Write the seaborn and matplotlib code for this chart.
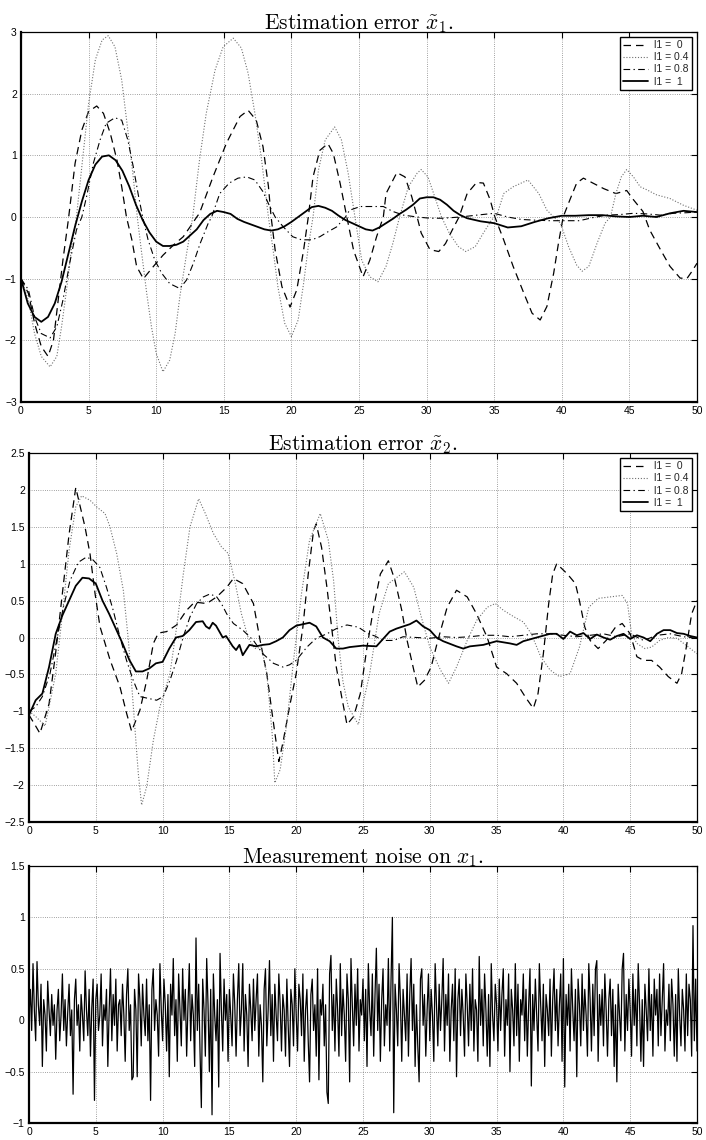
import numpy as np
import pandas as pd
import matplotlib
matplotlib.use("Agg")
import matplotlib.pyplot as plt
import seaborn as sns
from matplotlib.ticker import FuncFormatter, MultipleLocator

# ---------------- data ----------------
legend_labels = ["l1 =  0", "l1 = 0.4", "l1 = 0.8", "l1 =  1"]
titles = [r"$\mathrm{Estimation\ error\ }\tilde{x}_1.$",
          r"$\mathrm{Estimation\ error\ }\tilde{x}_2.$",
          r"$\mathrm{Measurement\ noise\ on\ }x_1.$"]
x_ticks = [0, 5, 10, 15, 20, 25, 30, 35, 40, 45, 50]

# Panel 1: estimation error x1
p1_l0_t = [0, 0.55, 1.0, 1.5, 2.0, 2.4, 2.75, 3.1, 3.5, 4.0, 4.5, 5.0, 5.6, 6.1, 6.6, 7.1, 7.45, 7.8,
           8.2, 8.55, 9.05, 9.8, 10.5, 11.3, 12.0, 12.6, 13.0, 13.2, 14.2, 15.2, 16.2, 16.8, 17.4, 17.9,
           18.3, 18.5, 18.8, 19.3, 19.9, 20.4, 20.9, 21.25, 21.6, 22.1, 22.7, 23.1, 23.6, 24.1, 24.6,
           25.3, 25.8, 26.3, 26.8, 27.0, 27.8, 28.4, 28.9, 29.3, 29.6, 30.25, 30.9, 31.4, 31.9, 32.4,
           33.0, 33.7, 34.2, 34.7, 35.05, 35.7, 36.4, 37.2, 37.8, 38.4, 38.9, 39.4, 39.75, 40.1, 40.6,
           41.1, 41.6, 42.3, 43.1, 44.0, 44.8, 45.3, 46.0, 46.5, 47.3, 48.0, 48.75, 49.25, 49.6, 50.0]
p1_l0_v = [-1.0, -1.24, -1.72, -2.1, -2.26, -2.0, -1.35, -0.7, -0.05, 0.87, 1.41, 1.71, 1.8, 1.68, 1.36,
           0.92, 0.49, 0.0, -0.37, -0.8, -1.0, -0.8, -0.62, -0.45, -0.32, -0.13, 0.0, 0.06, 0.65, 1.2,
           1.63, 1.73, 1.57, 1.14, 0.5, 0.0, -0.54, -1.13, -1.46, -1.18, -0.54, 0.0, 0.65, 1.08, 1.19,
           1.03, 0.55, 0.0, -0.54, -0.97, -0.7, -0.32, 0.0, 0.38, 0.72, 0.65, 0.33, 0.0, -0.26, -0.53,
           -0.56, -0.43, -0.21, 0.0, 0.38, 0.56, 0.55, 0.28, 0.0, -0.37, -0.8, -1.24, -1.56, -1.67, -1.45,
           -0.91, -0.43, 0.0, 0.28, 0.55, 0.63, 0.55, 0.46, 0.38, 0.43, 0.28, 0.09, -0.21, -0.53, -0.8,
           -0.99, -1.0, -0.89, -0.75]

p1_l04_t = [0, 0.55, 1.0, 1.5, 2.15, 2.65, 3.0, 3.4, 3.75, 4.1, 4.5, 5.0, 5.5, 6.0, 6.45, 6.95, 7.45,
            7.9, 8.3, 8.6, 8.9, 9.3, 9.65, 10.0, 10.5, 11.0, 11.4, 11.75, 12.25, 12.7, 13.2, 13.7, 14.35,
            14.95, 15.7, 16.3, 16.8, 17.3, 17.8, 18.3, 18.65, 19.0, 19.5, 20.0, 20.5, 20.9, 21.25, 21.6,
            22.0, 22.5, 23.2, 23.7, 24.2, 24.7, 25.2, 25.8, 26.4, 27.0, 27.5, 28.0, 28.65, 29.3, 29.6,
            30.1, 30.6, 31.1, 31.7, 32.35, 32.9, 33.6, 34.2, 34.8, 35.2, 35.7, 36.4, 37.5, 38.3, 38.9,
            39.4, 39.9, 40.5, 41.1, 41.5, 42.0, 42.6, 43.2, 43.6, 44.0, 44.4, 44.8, 45.3, 45.8, 46.3,
            47.0, 48.0, 49.0, 50.0]
p1_l04_v = [-1.0, -1.35, -1.89, -2.26, -2.43, -2.26, -1.78, -1.13, -0.48, 0.0, 0.82, 1.84, 2.55, 2.87,
            2.94, 2.76, 2.22, 1.41, 0.65, 0.0, -0.54, -1.24, -1.78, -2.21, -2.51, -2.32, -1.89, -1.29,
            -0.59, 0.0, 0.92, 1.68, 2.38, 2.76, 2.9, 2.74, 2.33, 1.68, 0.92, 0.0, -0.54, -1.13, -1.72,
            -1.94, -1.67, -1.08, -0.48, 0.0, 0.76, 1.25, 1.46, 1.25, 0.71, 0.0, -0.7, -0.97, -1.05, -0.8,
            -0.43, 0.0, 0.49, 0.71, 0.77, 0.65, 0.33, 0.0, -0.27, -0.48, -0.56, -0.48, -0.26, -0.05, 0.03,
            0.38, 0.49, 0.6, 0.38, 0.11, 0.0, -0.1, -0.48, -0.78, -0.88, -0.8, -0.43, -0.1, 0.0, 0.38,
            0.65, 0.77, 0.65, 0.49, 0.44, 0.36, 0.3, 0.19, 0.11]

p1_l08_t = [0, 0.55, 1.0, 1.5, 2.15, 2.65, 3.1, 3.6, 4.1, 4.5, 4.85, 5.35, 5.85, 6.3, 6.95, 7.45, 7.9,
            8.3, 8.7, 9.0, 9.4, 9.9, 10.4, 11.0, 11.75, 12.25, 12.75, 13.25, 13.85, 14.1, 14.7, 15.4,
            16.05, 16.7, 17.3, 17.9, 18.4, 18.8, 19.4, 20.1, 20.75, 21.5, 22.1, 22.7, 23.35, 24.0, 24.3,
            25.1, 25.8, 26.8, 27.5, 28.3, 29.3, 30.25, 31.2, 32.5, 33.7, 35.0, 36.0, 37.0, 37.9, 39.1,
            40.1, 41.3, 42.3, 43.3, 44.3, 45.3, 46.3, 47.3, 48.25, 49.25, 50.0]
p1_l08_v = [-1.0, -1.18, -1.62, -1.89, -1.96, -1.78, -1.35, -0.75, -0.21, 0.0, 0.33, 0.87, 1.25, 1.52,
            1.61, 1.57, 1.25, 0.82, 0.33, 0.0, -0.37, -0.7, -0.91, -1.08, -1.16, -1.02, -0.75, -0.43,
            -0.1, 0.0, 0.38, 0.55, 0.63, 0.65, 0.6, 0.41, 0.17, 0.0, -0.16, -0.32, -0.37, -0.37, -0.32,
            -0.24, -0.16, 0.0, 0.11, 0.17, 0.17, 0.17, 0.09, 0.03, 0.0, -0.02, -0.02, 0.0, 0.03, 0.06,
            0.0, -0.04, -0.05, -0.06, -0.06, -0.06, -0.01, 0.03, 0.04, 0.06, 0.05, 0.03, 0.06, 0.07, 0.08]

p1_l1_t = [0, 0.5, 1.0, 1.5, 2.0, 2.5, 3.0, 3.5, 4.0, 4.5, 5.0, 5.5, 6.0, 6.5, 7.0, 7.5, 8.0, 8.5, 9.0,
           9.5, 10.0, 10.5, 11.0, 11.5, 12.0, 12.5, 13.0, 13.5, 14.0, 14.5, 15.0, 15.5, 16.0, 16.5, 17.0,
           17.5, 18.0, 18.5, 19.0, 19.5, 20.0, 20.5, 21.0, 21.5, 22.0, 22.5, 23.0, 23.5, 24.0, 24.5,
           25.0, 25.5, 26.0, 26.5, 27.0, 27.5, 28.0, 28.5, 29.0, 29.5, 30.0, 30.5, 31.0, 31.5, 32.0,
           32.5, 33.0, 34.0, 35.0, 36.0, 37.0, 38.0, 39.0, 40.0, 41.0, 42.0, 43.0, 44.0, 45.0, 46.0,
           47.0, 48.0, 49.0, 50.0]
p1_l1_v = [-1.0, -1.4, -1.62, -1.7, -1.62, -1.4, -1.05, -0.6, -0.15, 0.25, 0.6, 0.85, 0.98, 1.0, 0.92,
           0.75, 0.5, 0.2, -0.05, -0.25, -0.4, -0.47, -0.47, -0.45, -0.4, -0.3, -0.2, -0.05, 0.05, 0.1,
           0.08, 0.05, -0.03, -0.08, -0.12, -0.16, -0.2, -0.22, -0.2, -0.15, -0.08, 0.0, 0.08, 0.16,
           0.18, 0.15, 0.1, 0.02, -0.05, -0.1, -0.15, -0.2, -0.22, -0.17, -0.1, -0.03, 0.05, 0.12, 0.2,
           0.3, 0.32, 0.32, 0.28, 0.2, 0.1, 0.03, -0.02, -0.07, -0.1, -0.17, -0.15, -0.08, -0.02, 0.02,
           0.02, 0.03, 0.03, 0.01, 0.0, 0.02, 0.0, 0.06, 0.1, 0.08]

# Panel 2: estimation error x2
p2_l0_t = [0, 0.5, 0.82, 1.5, 2.0, 2.5, 3.0, 3.5, 4.19, 4.57, 4.94, 5.31, 6.06, 6.81, 7.31, 7.68, 8.31,
           8.81, 9.31, 9.68, 10.3, 11.05, 11.8, 12.4, 13.3, 14.05, 14.8, 15.3, 16.0, 16.8, 17.3, 17.8,
           18.2, 18.7, 19.0, 19.5, 20.0, 20.5, 20.9, 21.3, 21.5, 21.9, 22.3, 22.65, 23.0, 23.4, 23.8,
           24.3, 24.8, 25.3, 25.8, 26.3, 26.9, 27.4, 27.9, 28.3, 28.8, 29.1, 29.6, 30.1, 30.6, 31.3,
           32.0, 32.8, 33.5, 34.3, 35.0, 35.75, 36.5, 37.2, 37.75, 38.1, 38.5, 38.9, 39.2, 39.5, 40.3,
           40.9, 41.2, 41.6, 42.0, 42.6, 43.2, 43.9, 44.4, 45.0, 45.5, 46.0, 46.6, 47.2, 47.85, 48.5,
           48.85, 49.2, 49.6, 50.0]
p2_l0_v = [-1.05, -1.2, -1.3, -0.9, -0.2, 0.6, 1.4, 2.03, 1.5, 1.13, 0.6, 0.15, -0.3, -0.67, -1.03,
           -1.27, -0.98, -0.58, -0.08, 0.06, 0.08, 0.17, 0.37, 0.48, 0.46, 0.55, 0.68, 0.8, 0.73, 0.46,
           -0.04, -0.49, -1.03, -1.68, -1.43, -0.94, -0.49, 0.14, 0.86, 1.45, 1.54, 1.22, 0.68, 0.14,
           -0.4, -0.8, -1.18, -1.07, -0.76, -0.13, 0.41, 0.86, 1.04, 0.77, 0.37, -0.04, -0.44, -0.67,
           -0.58, -0.4, -0.04, 0.41, 0.64, 0.55, 0.32, 0.0, -0.4, -0.49, -0.62, -0.82, -0.96, -0.76,
           -0.22, 0.46, 0.86, 1.0, 0.86, 0.73, 0.5, 0.14, -0.04, -0.15, -0.04, 0.14, 0.19, 0.05, -0.26,
           -0.31, -0.31, -0.4, -0.53, -0.62, -0.49, -0.13, 0.32, 0.5]

p2_l04_t = [0, 0.5, 1.0, 1.2, 1.5, 2.0, 2.5, 3.0, 3.5, 3.94, 4.57, 5.06, 5.69, 6.06, 6.56, 7.06, 7.44,
            7.81, 8.18, 8.43, 8.81, 9.31, 9.8, 10.55, 11.05, 11.55, 12.05, 12.7, 13.2, 13.8, 14.4, 14.9,
            15.4, 15.9, 16.4, 16.9, 17.4, 17.8, 18.2, 18.4, 18.8, 19.3, 19.8, 20.4, 21.0, 21.8, 22.4,
            22.8, 23.15, 23.5, 23.9, 24.65, 25.5, 26.2, 26.9, 28.1, 28.8, 29.3, 30.0, 30.8, 31.4, 32.0,
            32.8, 33.5, 34.3, 34.9, 35.5, 36.3, 37.0, 37.6, 38.3, 39.0, 39.7, 40.5, 41.2, 41.9, 42.6,
            43.5, 44.4, 44.8, 45.1, 45.5, 46.1, 46.6, 47.2, 47.85, 48.5, 49.0, 50.0]
p2_l04_v = [-1.0, -1.07, -1.16, -1.2, -0.94, -0.49, 0.32, 1.18, 1.77, 1.92, 1.86, 1.77, 1.68, 1.5, 1.14,
            0.64, -0.04, -0.94, -1.84, -2.27, -2.02, -1.39, -0.94, -0.49, 0.14, 0.86, 1.5, 1.88, 1.68,
            1.41, 1.23, 1.14, 0.77, 0.32, 0.0, -0.15, -0.13, -0.49, -1.3, -1.97, -1.79, -1.16, -0.31,
            0.6, 1.32, 1.68, 1.32, 0.77, -0.04, -0.6, -0.94, -1.18, -0.49, 0.32, 0.73, 0.89, 0.68, 0.32,
            -0.13, -0.44, -0.62, -0.4, -0.04, 0.23, 0.41, 0.46, 0.37, 0.28, 0.21, 0.05, -0.26, -0.44,
            -0.53, -0.49, -0.13, 0.41, 0.53, 0.55, 0.57, 0.46, 0.05, -0.08, -0.15, -0.13, -0.04, 0.0,
            -0.01, -0.08, -0.22]

p2_l08_t = [0, 0.5, 1.0, 1.57, 2.07, 2.57, 3.07, 3.7, 4.3, 4.8, 5.3, 5.8, 6.3, 6.8, 7.3, 7.8, 8.3, 8.8,
            9.55, 10.05, 10.55, 11.05, 11.55, 12.05, 12.55, 13.05, 13.55, 14.05, 14.4, 14.8, 15.3, 16.0,
            16.8, 17.5, 18.3, 19.0, 19.5, 20.0, 20.8, 21.5, 22.3, 23.0, 23.8, 24.65, 25.4, 25.9, 26.5,
            27.3, 28.0, 29, 30, 31, 32, 33, 34, 35, 36, 37, 38, 39, 40, 41, 42, 43, 44, 45, 46, 47, 48,
            49, 50]
p2_l08_v = [-1.0, -0.94, -0.8, -0.49, -0.04, 0.41, 0.77, 1.02, 1.09, 1.05, 0.95, 0.68, 0.37, 0.01,
            -0.31, -0.58, -0.8, -0.82, -0.85, -0.8, -0.58, -0.31, 0.01, 0.28, 0.46, 0.55, 0.59, 0.55,
            0.46, 0.32, 0.19, 0.1, -0.04, -0.22, -0.35, -0.4, -0.37, -0.31, -0.13, -0.01, 0.05, 0.12,
            0.17, 0.14, 0.05, 0.02, -0.04, -0.04, 0.01, 0.0, -0.01, 0.01, 0.0, 0.01, 0.03, 0.03, 0.01,
            0.03, 0.05, 0.05, 0.03, 0.01, 0.03, 0.05, 0.01, 0.05, -0.04, 0.03, 0.05, 0.01, -0.01]

p2_l1_t = [0, 0.5, 1.0, 1.5, 2.0, 2.5, 3.0, 3.5, 4.0, 4.5, 5.0, 5.5, 6.0, 6.5, 7.0, 7.5, 8.0, 8.5, 9.0,
           9.5, 10.0, 10.5, 11.0, 11.5, 12.0, 12.5, 13.0, 13.25, 13.5, 13.75, 14.0, 14.25, 14.5, 14.75,
           15.0, 15.25, 15.5, 15.75, 16.0, 16.5, 17.0, 17.5, 18.0, 18.5, 19.0, 19.5, 20.0, 20.5, 21.0,
           21.5, 22.0, 22.5, 23.0, 23.5, 24.0, 24.5, 25.0, 26.0, 27.0, 27.5, 28.0, 28.5, 29.0, 29.5,
           30.0, 30.5, 31.0, 32.0, 32.5, 33.0, 34.0, 35.0, 36.0, 36.5, 37.0, 38.0, 39.0, 39.5, 40.0,
           40.5, 41.0, 41.5, 42.0, 42.5, 43.0, 43.5, 44.0, 44.5, 45.0, 45.5, 46.0, 46.5, 47.0, 47.5,
           48.0, 48.5, 49.0, 49.5, 50.0]
p2_l1_v = [-1.05, -0.85, -0.76, -0.4, 0.05, 0.3, 0.5, 0.7, 0.81, 0.8, 0.73, 0.5, 0.32, 0.12, -0.08,
           -0.3, -0.46, -0.46, -0.42, -0.35, -0.33, -0.15, 0.0, 0.02, 0.1, 0.21, 0.22, 0.15, 0.12, 0.2,
           0.16, 0.08, 0.0, 0.02, -0.05, -0.12, -0.17, -0.1, -0.24, -0.1, -0.12, -0.1, -0.09, -0.05,
           0.0, 0.1, 0.16, 0.18, 0.2, 0.15, 0.0, -0.05, -0.15, -0.15, -0.13, -0.12, -0.11, -0.12, 0.08,
           0.12, 0.15, 0.18, 0.23, 0.15, 0.1, 0.0, -0.05, -0.12, -0.15, -0.12, -0.1, -0.05, -0.08, -0.1,
           -0.05, 0.0, 0.05, 0.05, -0.02, 0.08, 0.03, 0.06, -0.02, 0.04, 0.0, -0.03, 0.02, 0.05, -0.02,
           0.03, 0.0, -0.05, 0.05, 0.1, 0.1, 0.06, 0.05, 0.02, 0.0]

# Panel 3: measurement noise on x1 (sampled every 0.1 s)
noise = [
    0.05, 0.30, -0.10, 0.55, 0.10, -0.20, 0.57, 0.15, -0.05, 0.35,
    -0.45, 0.20, 0.05, -0.30, 0.38, 0.10, -0.15, 0.25, -0.05, 0.15,
    -0.38, 0.10, 0.30, -0.20, 0.05, 0.45, -0.10, 0.20, -0.25, 0.08,
    0.35, -0.15, 0.10, -0.72, 0.20, 0.40, -0.05, 0.15, -0.30, 0.25,
    0.05, -0.20, 0.48, 0.10, -0.15, 0.30, -0.35, 0.12, 0.40, -0.78,
    0.20, 0.35, -0.10, 0.05, 0.45, -0.25, 0.15, 0.00, 0.30, -0.45,
    0.10, 0.50, -0.20, 0.25, -0.05, 0.40, -0.30, 0.15, 0.20, -0.15,
    0.35, 0.05, -0.40, 0.25, 0.50, -0.10, 0.15, -0.58, -0.55, 0.30,
    0.10, -0.55, 0.45, 0.20, -0.25, 0.35, 0.05, -0.15, 0.40, -0.20,
    0.15, -0.78, 0.30, 0.50, -0.10, 0.20, 0.05, -0.35, 0.55, 0.10,
    -0.20, 0.40, 0.15, -0.30, 0.25, -0.55, 0.35, 0.05, 0.60, -0.15,
    0.20, -0.40, 0.45, 0.10, -0.25, 0.50, 0.00, 0.30, -0.35, 0.15,
    0.55, -0.20, 0.25, 0.05, -0.45, 0.80, -0.10, 0.35, -0.30, -0.85,
    0.40, 0.10, -0.35, 0.60, 0.15, -0.50, 0.30, -0.92, 0.45, 0.05,
    -0.20, 0.20, -0.65, 0.65, 0.10, -0.30, 0.40, 0.00, 0.25, -0.40,
    0.30, 0.05, -0.25, 0.45, 0.15, -0.35, 0.20, 0.55, -0.15, 0.10,
    0.55, -0.30, 0.25, 0.05, -0.45, 0.35, 0.10, -0.20, 0.40, -0.10,
    0.20, 0.45, -0.35, 0.15, -0.05, -0.60, 0.30, 0.50, -0.25, 0.10,
    0.58, -0.15, 0.25, -0.40, 0.35, 0.05, -0.20, 0.45, 0.15, -0.30,
    0.25, 0.10, -0.35, 0.40, -0.05, -0.45, 0.30, 0.15, -0.25, 0.50,
    0.05, -0.30, 0.35, 0.20, -0.15, 0.45, -0.40, 0.10, 0.30, -0.20,
    -0.60, 0.25, 0.40, -0.10, 0.15, -0.35, 0.50, -0.58, 0.20, 0.05,
    0.35, -0.25, 0.15, -0.70, -0.81, 0.45, 0.63, -0.10, 0.25, -0.30,
    0.40, 0.10, -0.35, 0.55, -0.15, 0.30, 0.05, -0.40, 0.45, 0.20,
    -0.60, 0.60, 0.15, -0.25, 0.35, -0.05, 0.50, -0.30, 0.20, 0.05,
    0.40, -0.20, 0.30, -0.45, 0.55, 0.10, -0.15, 0.45, -0.35, 0.25,
    0.70, -0.10, 0.35, -0.40, 0.20, 0.50, -0.25, 0.15, -0.05, 0.60,
    -0.30, 0.40, 1.00, -0.90, 0.35, 0.10, -0.25, 0.55, 0.20, -0.40,
    0.30, 0.05, -0.20, 0.45, -0.35, 0.25, 0.60, -0.10, 0.35, -0.45,
    0.15, -0.25, -0.60, 0.40, 0.50, -0.05, 0.25, -0.35, 0.10, 0.45,
    -0.20, 0.30, 0.05, -0.40, 0.55, 0.15, -0.25, 0.35, -0.10, 0.20,
    0.60, -0.30, 0.25, -0.05, 0.45, -0.40, 0.10, 0.35, -0.20, 0.50,
    -0.55, 0.20, 0.40, -0.15, 0.30, 0.05, -0.35, 0.45, 0.15, -0.25,
    0.35, -0.10, 0.50, -0.30, 0.20, 0.10, -0.40, 0.62, -0.05, 0.30,
    -0.25, 0.45, 0.10, -0.35, 0.25, -0.45, 0.55, 0.05, -0.20, 0.35,
    0.15, -0.30, 0.40, -0.10, 0.25, 0.50, -0.35, 0.20, -0.05, 0.45,
    -0.50, 0.30, 0.10, -0.25, 0.55, -0.15, 0.35, -0.40, 0.20, 0.05,
    0.45, -0.20, 0.30, -0.35, 0.15, 0.50, -0.64, 0.25, -0.10, 0.40,
    0.05, -0.30, 0.55, 0.15, -0.20, 0.35, -0.45, 0.25, 0.10, -0.15,
    0.40, -0.35, 0.20, 0.50, -0.10, 0.30, -0.25, 0.15, 0.45, -0.40,
    0.60, -0.65, 0.25, -0.05, 0.35, -0.30, 0.50, 0.10, -0.20, 0.30,
    -0.55, 0.40, 0.15, -0.25, 0.45, -0.10, 0.30, 0.05, -0.35, 0.55,
    0.20, -0.30, 0.35, -0.15, 0.50, 0.58, -0.40, 0.25, -0.05, 0.30,
    -0.25, 0.45, 0.10, -0.35, 0.20, 0.40, -0.15, 0.30, -0.45, 0.15,
    -0.60, 0.35, 0.05, -0.20, 0.50, 0.65, -0.30, 0.25, -0.10, 0.40,
    0.10, -0.35, 0.45, -0.05, 0.30, -0.25, 0.55, 0.15, -0.40, 0.20,
    -0.45, 0.35, 0.10, -0.20, 0.50, -0.10, 0.25, -0.35, 0.40, 0.05,
    0.30, -0.25, 0.45, -0.15, 0.20, 0.55, -0.30, 0.10, -0.05, 0.35,
    -0.20, 0.40, 0.15, -0.35, 0.25, -0.40, 0.50, 0.05, -0.25, 0.30,
    0.10, -0.30, 0.45, -0.15, 0.35, 0.20, -0.35, 0.92, -0.20, 0.40,
    -0.30]
noise_dt = 0.1

# ---------------- styling ----------------
sns.set_theme(style="white")
plt.rcParams["font.family"] = ["Liberation Sans", "DejaVu Sans"]
plt.rcParams["mathtext.fontset"] = "cm"
plt.rcParams["axes.unicode_minus"] = True

styles = [
    dict(color="black", lw=0.9, linestyle=(0, (6, 4))),
    dict(color="#707070", lw=0.8, linestyle=(0, (1, 1.6))),
    dict(color="black", lw=0.8, linestyle=(0, (6, 3, 1.2, 3))),
    dict(color="black", lw=1.3, linestyle="-"),
]

def fmt(v, pos):
    s = f"{v:g}"
    return s.replace("-", "\u2212")

fig = plt.figure(figsize=(7.06, 11.40), dpi=100)
W, H = 706.0, 1140.0

def add_axes(left_px, top_px, right_px, bottom_px):
    return fig.add_axes([left_px / W, 1 - bottom_px / H,
                         (right_px - left_px) / W, (bottom_px - top_px) / H])

ax1 = add_axes(21, 32, 697, 402)
ax2 = add_axes(29, 453, 697, 822)
ax3 = add_axes(29, 866, 697, 1123)

def style_axes(ax, ylo, yhi, ystep, title):
    ax.set_xlim(0, 50)
    ax.set_ylim(ylo, yhi)
    ax.set_xticks(x_ticks)
    ax.yaxis.set_major_locator(MultipleLocator(ystep))
    ax.xaxis.set_major_formatter(FuncFormatter(fmt))
    ax.yaxis.set_major_formatter(FuncFormatter(fmt))
    ax.grid(True, color="black", lw=0.5, linestyle=(0, (1, 2.2)), alpha=0.7)
    ax.tick_params(direction="in", length=4, width=0.8, top=True, right=True,
                   labelsize=7.5, pad=3, colors="black")
    for side in ["left", "bottom"]:
        ax.spines[side].set_linewidth(1.6)
    for side in ["top", "right"]:
        ax.spines[side].set_linewidth(0.9)
    for sp in ax.spines.values():
        sp.set_color("black")
        sp.set_visible(True)
    ax.set_xlabel("")
    ax.set_ylabel("")
    ax.set_title(title, fontsize=15.5, pad=2, color="black")

series1 = [(p1_l0_t, p1_l0_v), (p1_l04_t, p1_l04_v), (p1_l08_t, p1_l08_v), (p1_l1_t, p1_l1_v)]
series2 = [(p2_l0_t, p2_l0_v), (p2_l04_t, p2_l04_v), (p2_l08_t, p2_l08_v), (p2_l1_t, p2_l1_v)]

for ax, series in [(ax1, series1), (ax2, series2)]:
    for (t, v), st, lab in zip(series, styles, legend_labels):
        sns.lineplot(x=t, y=v, ax=ax, estimator=None, sort=False, label=lab, **st)
    leg = ax.legend(loc="upper right", fontsize=7.5, frameon=True, fancybox=False,
                    framealpha=1, edgecolor="black", borderaxespad=0.5,
                    handlelength=2.4, handletextpad=0.6, labelspacing=0.2,
                    borderpad=0.3)
    leg.get_frame().set_linewidth(1.0)

style_axes(ax1, -3, 3, 1, titles[0])
style_axes(ax2, -2.5, 2.5, 0.5, titles[1])

t_noise = np.arange(len(noise)) * noise_dt
sns.lineplot(x=t_noise, y=noise, ax=ax3, estimator=None, sort=False, color="black", lw=0.9)
style_axes(ax3, -1, 1.5, 0.5, titles[2])

fig.savefig("out.png", dpi=100)
